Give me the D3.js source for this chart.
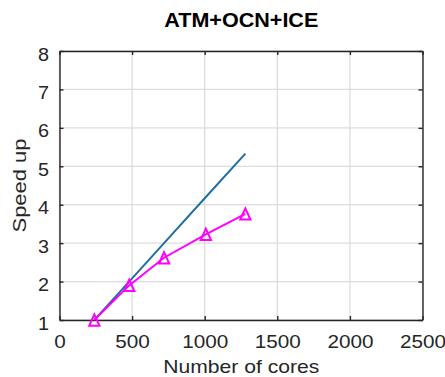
<!DOCTYPE html>
<html><head><meta charset="utf-8">
<script src="https://cdn.jsdelivr.net/npm/d3@7"></script>
<style>body{margin:0;background:#fff;}svg{display:block;}</style>
</head><body>
<script>
const cores = [240, 480, 720, 1008, 1280];
const idealSpeedup = [1, 2, 3, 4.2, 5.33];
const measuredSpeedup = [1, 1.9, 2.62, 3.23, 3.76];
const xTicks = [0, 500, 1000, 1500, 2000, 2500];
const yTicks = [1, 2, 3, 4, 5, 6, 7, 8];
const title = "ATM+OCN+ICE";
const xLabel = "Number of cores";
const yLabel = "Speed up";

(function () {
const W = 445, H = 377;
const m = {l: 59.5, r: 422.5, t: 51, b: 320};
const svg = d3.select("body").append("svg").attr("width", W).attr("height", H);
const x = d3.scaleLinear().domain([0, 2500]).range([m.l, m.r]);
const y = d3.scaleLinear().domain([1, 8]).range([m.b, m.t]);
const font = "'Liberation Sans', Arial, sans-serif";
const txt = "#262626";
const stretch = (sel, k) => sel.each(function () {
  const L = this.getComputedTextLength();
  d3.select(this).attr("textLength", L * k).attr("lengthAdjust", "spacingAndGlyphs");
});

// grid
svg.append("g").selectAll("line").data(xTicks).join("line")
  .attr("x1", d => x(d)).attr("x2", d => x(d)).attr("y1", m.t).attr("y2", m.b)
  .attr("stroke", "#dcdcdc").attr("stroke-width", 1.3);
svg.append("g").selectAll("line").data(yTicks).join("line")
  .attr("y1", d => y(d)).attr("y2", d => y(d)).attr("x1", m.l).attr("x2", m.r)
  .attr("stroke", "#dcdcdc").attr("stroke-width", 1.3);

// axes with inward ticks
const fmt = d3.format("d");
const gBottom = svg.append("g").attr("transform", `translate(0,${m.b})`)
  .call(d3.axisBottom(x).tickValues(xTicks).tickFormat(fmt).tickSize(-4).tickPadding(15.5).tickSizeOuter(0));
const gTop = svg.append("g").attr("transform", `translate(0,${m.t})`)
  .call(d3.axisTop(x).tickValues(xTicks).tickSize(-4).tickFormat("").tickSizeOuter(0));
const gLeft = svg.append("g").attr("transform", `translate(${m.l},0)`)
  .call(d3.axisLeft(y).tickValues(yTicks).tickFormat(fmt).tickSize(-4).tickPadding(10.5).tickSizeOuter(0));
const gRight = svg.append("g").attr("transform", `translate(${m.r},0)`)
  .call(d3.axisRight(y).tickValues(yTicks).tickSize(-4).tickFormat("").tickSizeOuter(0));
[gBottom, gTop, gLeft, gRight].forEach(g => {
  g.selectAll("path, line").attr("stroke", "#262626").attr("stroke-width", 1.4);
  g.selectAll("text").attr("fill", txt).style("font-family", font).style("font-size", "18px");
});
gLeft.selectAll("text").attr("dy", "0.5em");
stretch(gBottom.selectAll("text"), 1.15);
stretch(gLeft.selectAll("text"), 1.1);

// lines
const pts = (vals) => cores.map((c, i) => [c, vals[i]]);
const line = d3.line().x(d => x(d[0])).y(d => y(d[1]));
svg.append("path").attr("d", line(pts(idealSpeedup)))
  .attr("fill", "none").attr("stroke", "#1f6fa3").attr("stroke-width", 2);
svg.append("path").attr("d", line(pts(measuredSpeedup)))
  .attr("fill", "none").attr("stroke", "#ff00ff").attr("stroke-width", 2);
const triType = {draw(ctx, size) {
  const hw = Math.sqrt(size) * 0.5, hh = Math.sqrt(size) * 0.55;
  ctx.moveTo(0, -hh); ctx.lineTo(hw, hh); ctx.lineTo(-hw, hh); ctx.closePath();
}};
const tri = d3.symbol().type(triType).size(105);
svg.append("g").selectAll("path").data(pts(measuredSpeedup)).join("path")
  .attr("d", tri).attr("transform", d => `translate(${x(d[0])},${y(d[1])})`)
  .attr("fill", "none").attr("stroke", "#ff00ff").attr("stroke-width", 2);

// labels
svg.append("text").attr("x", 241.3).attr("y", 26.7).attr("text-anchor", "middle")
  .style("font-family", font).style("font-size", "19.5px").style("font-weight", "bold")
  .attr("fill", "#000").text(title)
  .attr("textLength", 154).attr("lengthAdjust", "spacingAndGlyphs");
svg.append("text").attr("x", 241.3).attr("y", 373.3).attr("text-anchor", "middle")
  .style("font-family", font).style("font-size", "18.6px").attr("fill", txt).text(xLabel)
  .attr("textLength", 156).attr("lengthAdjust", "spacingAndGlyphs");
svg.append("text").attr("transform", `translate(26,${(m.t + m.b) / 2}) rotate(-90)`)
  .attr("text-anchor", "middle")
  .style("font-family", font).style("font-size", "18px").attr("fill", txt).text(yLabel)
  .attr("textLength", 94).attr("lengthAdjust", "spacingAndGlyphs");
})();
</script>
</body></html>
